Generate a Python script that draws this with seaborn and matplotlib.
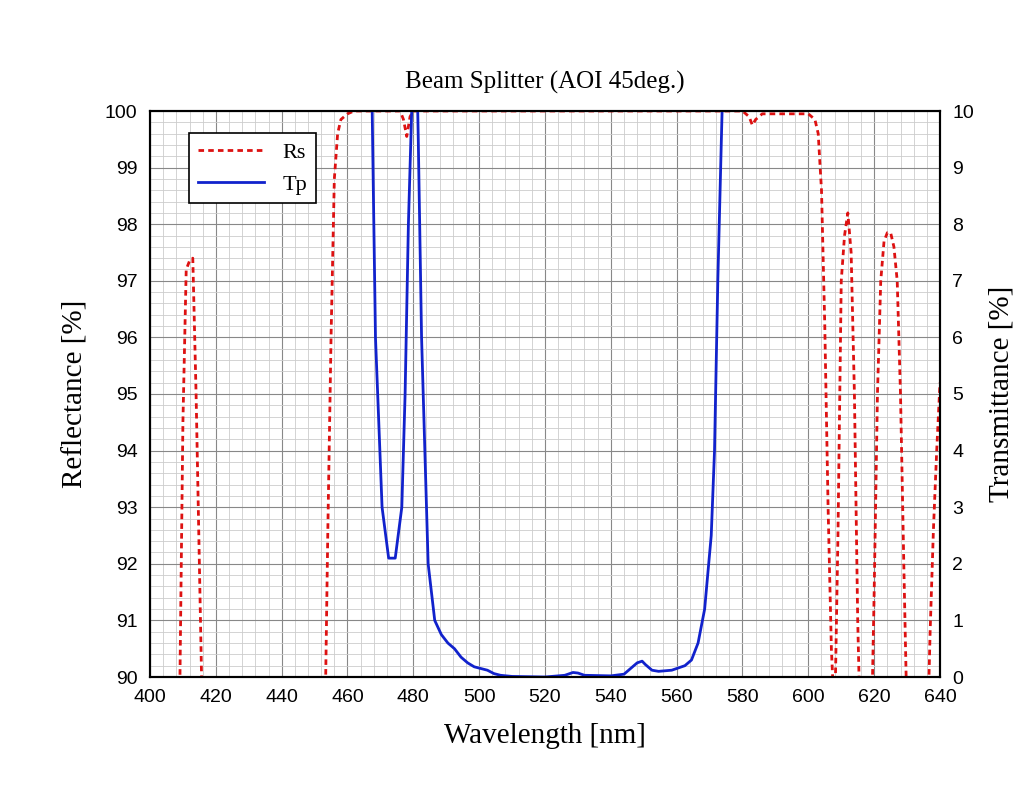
import matplotlib
matplotlib.use("Agg")
import matplotlib.pyplot as plt
import seaborn as sns
import pandas as pd
from matplotlib.ticker import MultipleLocator

rs_wl = [405, 409, 410, 411, 412, 413, 414, 415, 416, 420, 450, 453, 454, 455, 456, 457, 458, 460, 462, 470, 476, 477, 478, 479, 480,
         500, 540, 580, 582, 583, 584, 586, 600, 602, 603, 604, 605, 606, 607, 608, 609, 610, 611, 612, 613, 614, 615, 616,
         618, 619, 620, 621, 622, 623, 624, 625, 626, 627, 628, 629, 630, 631, 635, 636, 637, 638, 639, 640]
rs_val = [85, 89.5, 94.5, 97.2, 97.35, 97.4, 95.0, 92.0, 89.0, 80, 80, 88.5, 92.5, 96.0, 98.8, 99.6, 99.85, 99.95, 100, 100, 100, 99.85, 99.55, 99.9, 100,
          100, 100, 100, 99.9, 99.75, 99.85, 99.95, 99.95, 99.85, 99.6, 98.6, 96.2, 93.0, 90.5, 89.2, 92.5, 97.0, 97.8, 98.2, 97.5, 95.0, 91.0, 88.5,
          85, 88.5, 91.5, 95.0, 97.0, 97.7, 97.85, 97.85, 97.6, 97.0, 95.0, 92.0, 89.2, 85, 85, 88.5, 90.8, 92.6, 94.0, 95.2]

tp_wl = [466, 467.5, 468.5, 469.5, 470.5, 472.5, 474.5, 476.5, 477.5, 478.5, 479.5, 480, 481, 481.5, 482.5, 484.5, 486.5, 488.5, 490.5, 492.5, 494.5, 496.5, 498.5, 500.5,
         502.5, 504.5, 506.5, 510, 520, 526, 528.5, 530, 532, 540, 544, 546, 548, 549.5, 550.5, 552.5, 554.5, 558.5, 562.5, 564.5, 566.5, 568.5, 570.5,
         571.5, 572.5, 573.8, 576]
tp_val = [14, 10, 6.0, 4.5, 3.0, 2.1, 2.1, 3.0, 5.0, 8.0, 10, 12, 11, 9.5, 6.0, 2.0, 1.0, 0.75, 0.6, 0.5, 0.35, 0.25, 0.18, 0.15,
          0.12, 0.06, 0.03, 0.01, 0.0, 0.03, 0.08, 0.07, 0.03, 0.02, 0.05, 0.15, 0.25, 0.28, 0.22, 0.12, 0.1, 0.12, 0.2, 0.3, 0.6, 1.2, 2.5,
          4.0, 7.0, 10, 14]

rs = pd.DataFrame({"wl": rs_wl, "v": rs_val})
tp = pd.DataFrame({"wl": tp_wl, "v": tp_val})

fig = plt.figure(figsize=(10.35, 8.0), dpi=100)
ax = fig.add_axes([150/1035, 1-677/800, 790/1035, 566/800])
ax2 = ax.twinx()
red, blue = "#dd1111", "#1122cc"
sns.lineplot(data=rs, x="wl", y="v", ax=ax, color=red, lw=2, linestyle=(0, (2, 1.5)), label="Rs", legend=False)
sns.lineplot(data=tp, x="wl", y="v", ax=ax2, color=blue, lw=2, label="Tp", legend=False)

ax.set_xlim(400, 640); ax.set_ylim(90, 100); ax2.set_ylim(0, 10)
ax.xaxis.set_major_locator(MultipleLocator(20)); ax.xaxis.set_minor_locator(MultipleLocator(4))
ax.yaxis.set_major_locator(MultipleLocator(1)); ax.yaxis.set_minor_locator(MultipleLocator(0.2))
ax2.yaxis.set_major_locator(MultipleLocator(1))
ax.grid(which="major", color="#888888", lw=0.8)
ax.grid(which="minor", color="#cccccc", lw=0.6)
ax.set_axisbelow(True)
for a in (ax, ax2):
    a.tick_params(labelsize=14, direction="in", length=0, pad=9)
    for l in a.get_xticklabels() + a.get_yticklabels():
        l.set_fontfamily("Liberation Sans")
    for s in a.spines.values():
        s.set_linewidth(1.5)
ax.tick_params(which="minor", length=0)
serif = {"family": "Liberation Serif", "size": 21}
ax.set_xlabel("Wavelength [nm]", fontdict=serif, labelpad=12)
ax.set_ylabel("Reflectance [%]", fontdict=serif, labelpad=12)
ax2.set_ylabel("Transmittance [%]", fontdict=serif, labelpad=10)
ax.set_title("Beam Splitter (AOI 45deg.)", fontdict={"family": "Liberation Serif", "size": 18}, pad=16)
h1, l1 = ax.get_legend_handles_labels(); h2, l2 = ax2.get_legend_handles_labels()
leg = ax2.legend(h1 + h2, l1 + l2, loc="upper left", bbox_to_anchor=(0.035, 0.98), fancybox=False,
                 edgecolor="black", framealpha=1, prop={"family": "Liberation Serif", "size": 16}, handlelength=3)
leg.get_frame().set_linewidth(1.2)
fig.savefig("out.png", dpi=100)
